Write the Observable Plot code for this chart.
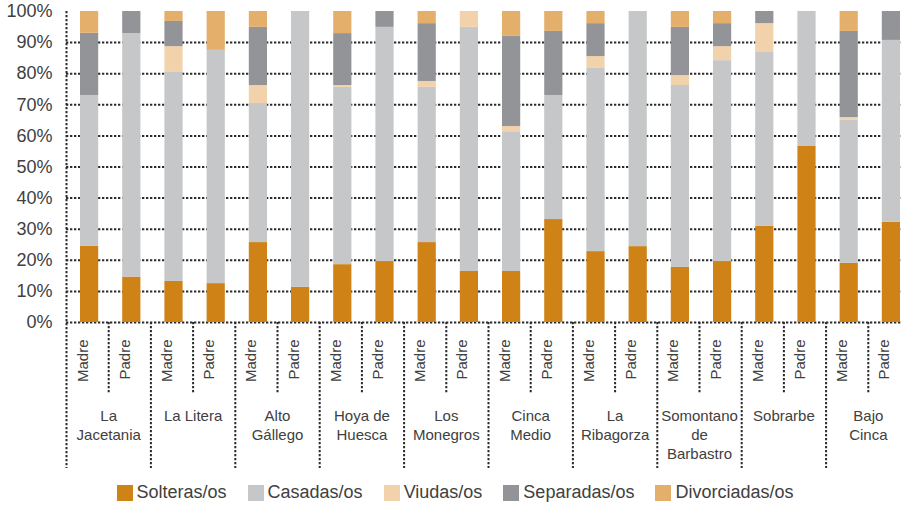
<!DOCTYPE html>
<html><head><meta charset="utf-8">
<script src="https://cdn.jsdelivr.net/npm/d3@7"></script>
<script src="https://cdn.jsdelivr.net/npm/@observablehq/plot@0.6"></script>
<style>
body{margin:0;overflow:hidden;background:#fff;font-family:"Liberation Sans",Arial,sans-serif;}
#chart{width:910px;}
#chart svg{display:block;}
#legend{width:910px;}
#legend .lg-swatches{justify-content:center !important;margin:0 !important;}
#legend .lg-swatch{margin-right:21px !important;}
#legend .lg-swatch:last-child{margin-right:0 !important;}
#legend .lg-swatch > svg{margin-right:4px !important;}
</style></head><body><div id="chart"></div><div id="legend"></div>
<script>
const regions = ["La\nJacetania","La Litera","Alto\nGállego","Hoya de\nHuesca","Los\nMonegros","Cinca\nMedio","La\nRibagorza","Somontano\nde\nBarbastro","Sobrarbe","Bajo\nCinca"];
const parents = ["Madre","Padre"];
const statuses = ["Solteras/os","Casadas/os","Viudas/os","Separadas/os","Divorciadas/os"];
const colors = ["#CF8317","#C6C7C8","#F2D2AB","#939497","#E4AE6B"];
const yTicks = [0,0.1,0.2,0.3,0.4,0.5,0.6,0.7,0.8,0.9,1];

// values per bar, order: region1 Madre, region1 Padre, region2 Madre, ...
const solteras    = [24.5,14.6,13.2,12.5,25.7,11.3,18.6,19.6,25.7,16.4,16.4,33.1,22.8,24.4,17.7,19.6,30.9,56.6,19.0,32.2];
const casadas     = [48.5,78.3,67.2,75.0,44.7,88.7,57.0,75.3,49.9,78.5,44.7,39.9,58.9,75.6,58.5,64.6,55.9,43.4,46.0,58.5];
const viudas      = [0,0,8.3,0,5.8,0,0.6,0,1.9,5.1,1.9,0,3.8,0,3.2,4.5,9.3,0,0.9,0];
const separadas   = [20.0,7.1,8.1,0,18.7,0,16.7,5.1,18.6,0,29.0,20.6,10.6,0,15.5,7.4,3.9,0,27.7,9.3];
const divorciadas = [7.0,0,3.2,12.5,5.1,0,7.1,0,3.9,0,8.0,6.4,3.9,0,5.1,3.9,0,0,6.4,0];

const series = [solteras, casadas, viudas, separadas, divorciadas];
const bars = regions.flatMap((r, g) => parents.map((p, k) => ({region: r, parent: p, i: g * 2 + k})));
const rows = series.flatMap((vals, s) => bars.map((b, j) => ({...b, status: statuses[s], value: vals[j]})));

const dotted = {stroke: "#2b2b2b", strokeWidth: 2, strokeDasharray: "2.3,1.7"};

const chart = Plot.plot({
  width: 910, height: 476,
  marginLeft: 66, marginRight: 0, marginTop: 11, marginBottom: 154,
  style: {fontFamily: "Liberation Sans, Arial, sans-serif", fontSize: "18px", color: "#404040", background: "white", overflow: "visible"},
  x: {type: "linear", domain: [0, bars.length], axis: null},
  y: {domain: [0, 1], ticks: 10, tickFormat: ".0%", tickSize: 0, tickPadding: 14, label: null},
  color: {domain: statuses, range: colors},
  marks: [
    Plot.ruleY(yTicks.filter(t => t < 1), dotted),
    Plot.rectY(rows, {x1: "i", x2: d => d.i + 1, y: "value", fill: "status", offset: "normalize", insetLeft: 14, insetRight: 10}),
    Plot.ruleX([0], {...dotted, insetBottom: -146}),
    Plot.ruleX(bars.filter(b => b.i > 0 && b.parent === "Madre"), {x: "i", y1: 0, y2: 0, insetBottom: -146, ...dotted}),
    Plot.ruleX(bars.filter(b => b.parent === "Padre"), {x: "i", y1: 0, y2: 0, insetBottom: -71, ...dotted}),
    Plot.text(bars, {x: d => d.i + 0.5, text: "parent", frameAnchor: "bottom", rotate: -90, textAnchor: "end", dy: 17, fontSize: 15}),
    Plot.text(regions, {x: (d, g) => 2 * g + 1, text: d => d, frameAnchor: "bottom", lineAnchor: "top", lineHeight: 1.27, dy: 85, fontSize: 15})
  ]
});
document.getElementById("chart").appendChild(chart);

const legend = Plot.legend({
  color: {type: "ordinal", domain: statuses, range: colors},
  legend: "swatches",
  swatchSize: 16,
  className: "lg",
  style: {fontFamily: "Liberation Sans, Arial, sans-serif", fontSize: "18px", color: "#404040"}
});
document.getElementById("legend").appendChild(legend);
</script></body></html>
